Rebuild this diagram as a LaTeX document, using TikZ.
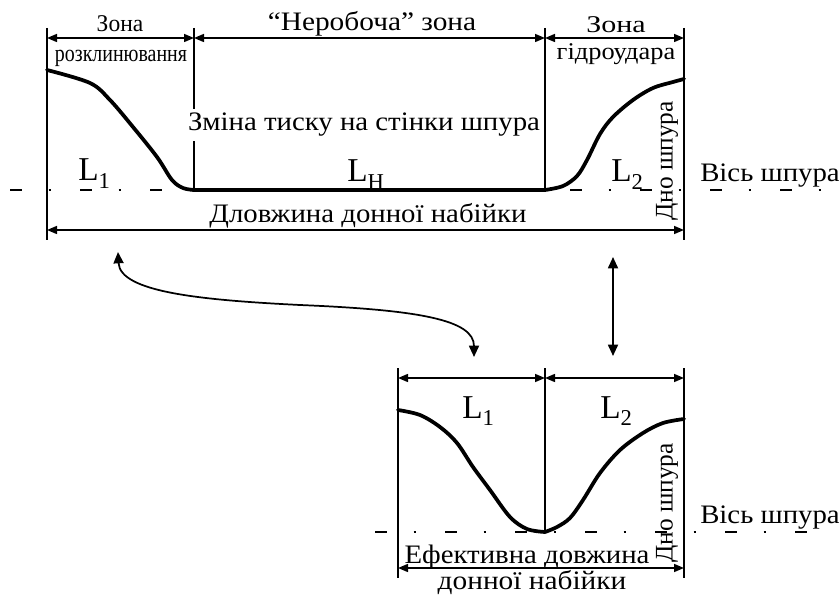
\documentclass[tikz,border=0pt]{standalone}
\usepackage{fontspec}
\setmainfont{Liberation Serif}
\usetikzlibrary{arrows.meta}
\newcommand{\Lsub}[1]{L\raisebox{-0.22em}{\fontsize{17}{17}\selectfont #1}}
\newcommand{\wid}[2]{\scalebox{#1}[1]{#2}}
\begin{document}
\begin{tikzpicture}[x=0.75pt,y=-0.75pt,
  thinline/.style={line width=1.1pt},
  thick curve/.style={line width=2.8pt, line cap=round, line join=round},
  dimline/.style={line width=1.1pt, {Triangle[length=7.5pt,width=6pt]}-{Triangle[length=7.5pt,width=6pt]}},
  link/.style={line width=1.3pt, {Triangle[length=8.5pt,width=7.5pt]}-{Triangle[length=8.5pt,width=7.5pt]}},
  axisline/.style={line width=1.2pt, dash pattern=on 9pt off 20pt on 1.5pt off 22pt},
  bigtxt/.style={inner sep=0pt, font=\fontsize{20}{23}\selectfont},
  smalltxt/.style={inner sep=0pt, font=\fontsize{18}{20}\selectfont},
  Ltxt/.style={inner sep=0pt, anchor=base west, font=\fontsize{25}{28}\selectfont},
]
\useasboundingbox (0,0) rectangle (839,595);

% ---------- top diagram: coordinates ----------
\coordinate (tA1) at (47,28);  \coordinate (tA2) at (47,240);
\coordinate (tB1) at (194,28); \coordinate (tB2) at (194,190);
\coordinate (tC1) at (545,28); \coordinate (tC2) at (545,190);
\coordinate (tD1) at (684,28); \coordinate (tD2) at (684,240);
\coordinate (tdA) at (47,38);  \coordinate (tdB) at (194,38);
\coordinate (tdC) at (545,38); \coordinate (tdD) at (684,38);
\coordinate (tbA) at (47,230); \coordinate (tbD) at (684,230);
\coordinate (tax1) at (10,190); \coordinate (tax2) at (832,190);

\draw[axisline] (tax1) -- (tax2);
\draw[thinline] (tA1) -- (tA2);
\draw[thinline] (tB1) -- (tB2);
\draw[thinline] (tC1) -- (tC2);
\draw[thinline] (tD1) -- (tD2);
\draw[dimline] (tdA) -- (tdB);
\draw[dimline] (tdB) -- (tdC);
\draw[dimline] (tdC) -- (tdD);
\draw[dimline] (tbA) -- (tbD);

\draw[thick curve] plot[smooth, tension=0.55] coordinates
  {(47,70) (90,83) (110,100) (133,127) (157,157) (172,180) (183,188) (194,190)}
  -- (tC2);
\draw[thick curve] plot[smooth, tension=0.55] coordinates
  {(545,190) (563,186) (577,176) (587,160) (600,134) (613,117) (633,100) (653,88) (673,82) (684,79)};

\node[bigtxt, fill=white, inner xsep=1pt, inner ysep=3pt, anchor=base] (zmina) at (364,131) {\wid{1.08}{Зміна тиску на стінки шпура}};
\node[bigtxt, anchor=base] (nerob) at (372,31) {\wid{1.1}{“Неробоча” зона}};
\node[smalltxt, anchor=base] (zl1) at (120,32) {\wid{0.98}{Зона}};
\node[smalltxt, anchor=base] (zl2) at (121,62) {\wid{0.83}{розклинювання}};
\node[smalltxt, anchor=base] (zr1) at (616,33) {\wid{1.25}{Зона}};
\node[smalltxt, anchor=base] (zr2) at (616,60) {\wid{1.1}{гідроудара}};
\node[bigtxt, anchor=base] (dlov) at (368,223) {\wid{1.08}{Дловжина донної набійки}};
\node[Ltxt] (l1t) at (78,181) {\Lsub{1}};
\node[Ltxt] (lht) at (347,182) {\Lsub{H}};
\node[Ltxt] (l2t) at (611,182) {\Lsub{2}};
\node[inner sep=0pt, font=\fontsize{19}{22}\selectfont, rotate=90] (dno1) at (667,161) {Дно шпура};
\node[bigtxt, anchor=base west] (vis1) at (700,182) {\wid{1.08}{Вісь шпура}};

% ---------- bottom diagram ----------
\coordinate (bA1) at (398,368); \coordinate (bA2) at (398,578);
\coordinate (bB1) at (545,368); \coordinate (bB2) at (545,532);
\coordinate (bD1) at (684,368); \coordinate (bD2) at (684,578);
\coordinate (bdA) at (398,378); \coordinate (bdB) at (545,378); \coordinate (bdD) at (684,378);
\coordinate (bbA) at (398,568); \coordinate (bbD) at (684,568);
\coordinate (bax1) at (375,532); \coordinate (bax2) at (832,532);

\draw[axisline] (bax1) -- (bax2);
\draw[thinline] (bA1) -- (bA2);
\draw[thinline] (bB1) -- (bB2);
\draw[thinline] (bD1) -- (bD2);
\draw[dimline] (bdA) -- (bdB);
\draw[dimline] (bdB) -- (bdD);
\draw[dimline] (bbA) -- (bbD);

\draw[thick curve] plot[smooth, tension=0.55] coordinates
  {(398,410) (420,415) (440,427) (457,443) (473,467) (490,490) (510,517) (527,529) (545,532)};
\draw[thick curve] plot[smooth, tension=0.55] coordinates
  {(545,532) (557,527) (570,518) (583,500) (600,473) (620,450) (643,433) (663,423) (684,419)};

\node[Ltxt] (l1b) at (462,418) {\Lsub{1}};
\node[Ltxt] (l2b) at (600,418) {\Lsub{2}};
\node[bigtxt, anchor=base] (efek) at (527,563) {\wid{1.08}{Ефективна довжина}};
\node[bigtxt, anchor=base] (donn) at (532,589) {\wid{1.1}{донної набійки}};
\node[inner sep=0pt, font=\fontsize{19}{22}\selectfont, rotate=90] (dno2) at (667,503) {Дно шпура};
\node[bigtxt, anchor=base west] (vis2) at (700,523) {\wid{1.08}{Вісь шпура}};

% ---------- links ----------
\coordinate (cA) at (118,252);
\coordinate (cB) at (474,357);
\draw[link] (cA) .. controls (120,292) and (200,300) .. (300,305)
                 .. controls (420,310) and (474,320) .. (cB);
\coordinate (sA) at (613,257);
\coordinate (sB) at (613,356);
\draw[link] (sA) -- (sB);
\end{tikzpicture}
\end{document}
